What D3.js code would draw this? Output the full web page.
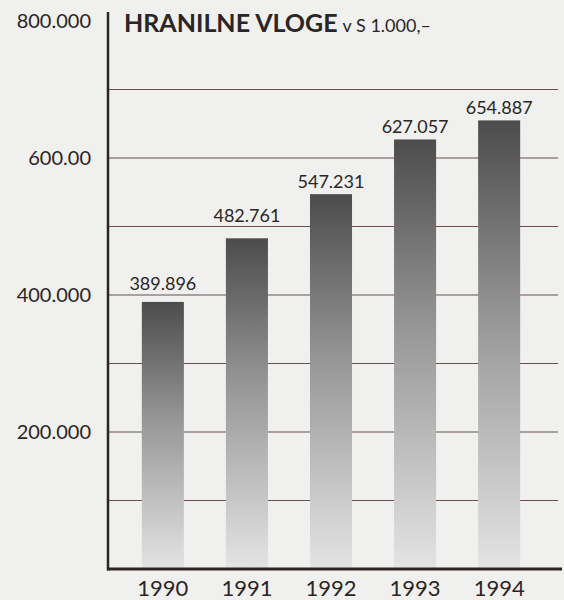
<!DOCTYPE html>
<html>
<head>
<meta charset="utf-8">
<script src="https://cdn.jsdelivr.net/npm/d3@7"></script>
<style>
  html, body { margin: 0; padding: 0; background: #efefed; }
  svg { display: block; }
</style>
</head>
<body>
<div id="box"></div>
<script>
// podatki
let years = ["1990", "1991", "1992", "1993", "1994"];
let values = [389896, 482761, 547231, 627057, 654887];
let valueLabels = ["389.896", "482.761", "547.231", "627.057", "654.887"];
let gridValues = [100000, 200000, 300000, 400000, 500000, 600000, 700000];
let tickValues = [200000, 400000, 600000, 800000];
let tickLabels = ["200.000", "400.000", "600.00", "800.000"];

let width = 564, height = 600;
let ink = "#2b2526";
let font = "Lato, 'Noto Sans', sans-serif";

let svg = d3.select("#box")
    .append("svg")
    .attr("width", width)
    .attr("height", height);

svg.append("rect")
    .attr("width", width)
    .attr("height", height)
    .attr("fill", "#f0f0ee");

let x = d3.scaleBand()
    .domain(years)
    .range([104, 558])
    .paddingInner(0.5)
    .paddingOuter(0.45);

let y = d3.scaleLinear()
    .domain([0, 800000])
    .range([569, 21]);

// preliv za stolpce
let defs = svg.append("defs");
let grad = defs.append("linearGradient")
    .attr("id", "barGrad")
    .attr("x1", 0).attr("y1", 0)
    .attr("x2", 0).attr("y2", 1);
grad.append("stop").attr("offset", "0%").attr("stop-color", "#4c4c4c");
grad.append("stop").attr("offset", "45%").attr("stop-color", "#989898");
grad.append("stop").attr("offset", "100%").attr("stop-color", "#e4e4e4");

// mreža
svg.append("g")
    .selectAll("line")
    .data(gridValues)
    .enter()
    .append("line")
    .attr("x1", 108)
    .attr("x2", 558)
    .attr("y1", d => y(d))
    .attr("y2", d => y(d))
    .attr("stroke", "#6a4c52")
    .attr("stroke-width", 1.2);

// stolpci
svg.append("g")
    .selectAll("rect")
    .data(values)
    .enter()
    .append("rect")
    .attr("x", (d, i) => x(years[i]))
    .attr("width", x.bandwidth())
    .attr("y", d => y(d))
    .attr("height", d => y(0) - y(d))
    .attr("fill", "url(#barGrad)");

// vrednosti nad stolpci (če se zaletijo v črto mreže, gredo nad njo)
function labelBase(v) {
    let top = y(v);
    let base = top - 6;
    let capTop = base - 14;
    gridValues.forEach(g => {
        let gy = y(g);
        if (gy >= capTop - 2 && gy <= top) base = gy - 5;
    });
    return base;
}
svg.append("g")
    .selectAll("text")
    .data(values)
    .enter()
    .append("text")
    .attr("x", (d, i) => x(years[i]) + x.bandwidth() / 2)
    .attr("y", d => labelBase(d))
    .attr("text-anchor", "middle")
    .attr("font-family", font)
    .attr("font-size", 18)
    .attr("fill", ink)
    .text((d, i) => valueLabels[i]);

// os y
let yAxis = d3.axisLeft(y)
    .tickValues(tickValues)
    .tickSize(0)
    .tickPadding(17)
    .tickFormat((d, i) => tickLabels[i]);
let gy = svg.append("g")
    .attr("transform", "translate(108,0)")
    .call(yAxis);
gy.select(".domain").remove();
gy.selectAll("text")
    .attr("font-family", font)
    .attr("font-size", 20)
    .attr("fill", ink);

svg.append("line")
    .attr("x1", 108).attr("x2", 108)
    .attr("y1", 12).attr("y2", y(0) + 1.5)
    .attr("stroke", ink)
    .attr("stroke-width", 2.5);

// os x
let xAxis = d3.axisBottom(x)
    .tickSize(0)
    .tickPadding(11);
let gx = svg.append("g")
    .attr("transform", `translate(0,${y(0)})`)
    .call(xAxis);
gx.select(".domain").remove();
gx.selectAll("text")
    .attr("font-family", font)
    .attr("font-size", 22)
    .attr("fill", ink);

svg.append("line")
    .attr("x1", 107).attr("x2", 562)
    .attr("y1", y(0)).attr("y2", y(0))
    .attr("stroke", ink)
    .attr("stroke-width", 3);

// naslov
let title = svg.append("text")
    .attr("x", 124)
    .attr("y", 32)
    .attr("font-family", font)
    .attr("fill", ink);
title.append("tspan")
    .attr("font-size", 25)
    .attr("font-weight", "bold")
    .text("HRANILNE VLOGE");
title.append("tspan")
    .attr("font-size", 18)
    .attr("dx", 5)
    .text("v S 1.000,–");
</script>
</body>
</html>
